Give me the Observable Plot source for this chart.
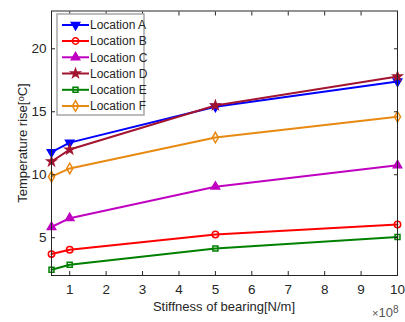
<!DOCTYPE html>
<html>
<head>
<meta charset="utf-8">
<script src="https://cdn.jsdelivr.net/npm/d3@7"></script>
<script src="https://cdn.jsdelivr.net/npm/@observablehq/plot@0.6"></script>
<style>
  html, body { margin: 0; padding: 0; background: #fff; }
  #chart { width: 405px; height: 322px; }
  svg { font-family: "Liberation Sans", Arial, sans-serif; }
</style>
</head>
<body>
<div id="chart"></div>
<script>
// ---- data ----
const stiffness = [0.5, 1, 5, 10]; // ×10^8 N/m
const seriesNames = ["Location A", "Location B", "Location C", "Location D", "Location E", "Location F"];
const valuesA = [11.8, 12.55, 15.4, 17.4];
const valuesB = [3.7, 4.05, 5.25, 6.05];
const valuesC = [5.85, 6.55, 9.05, 10.75];
const valuesD = [11.05, 12.0, 15.5, 17.8];
const valuesE = [2.45, 2.85, 4.15, 5.05];
const valuesF = [9.85, 10.5, 12.95, 14.6];
const xTicks = [1, 2, 3, 4, 5, 6, 7, 8, 9, 10];
const yTicks = [5, 10, 15, 20];
const colors = ["#0000ff", "#ff0000", "#c000c0", "#a2142f", "#008000", "#e88a12"];

// ---- symbols ----
const triangleDown = {
  draw(ctx, size) {
    const y = -Math.sqrt(size / (Math.sqrt(3) * 3));
    ctx.moveTo(0, -2 * y);
    ctx.lineTo(-Math.sqrt(3) * y, y);
    ctx.lineTo(Math.sqrt(3) * y, y);
    ctx.closePath();
  }
};
const symbols = [triangleDown, d3.symbolCircle, d3.symbolTriangle, d3.symbolStar, d3.symbolSquare, d3.symbolDiamond];
const filled = [true, false, true, true, false, false];
const radii = [3.1, 3.2, 3.1, 2.7, 2.8, 3.2];

const allValues = [valuesA, valuesB, valuesC, valuesD, valuesE, valuesF];
const rows = [];
allValues.forEach((vals, i) => {
  vals.forEach((v, j) => rows.push({series: seriesNames[i], idx: i, x: stiffness[j], y: v}));
});

const marks = [];
seriesNames.forEach((name, i) => {
  const d = rows.filter(r => r.idx === i);
  marks.push(Plot.line(d, {x: "x", y: "y", stroke: colors[i], strokeWidth: 2}));
  marks.push(Plot.dot(d, {x: "x", y: "y", symbol: symbols[i], r: radii[i],
    stroke: colors[i], strokeWidth: 1.5, fill: filled[i] ? colors[i] : "none"}));
});

const axisColor = "#262626";
const chart = Plot.plot({
  width: 405,
  height: 322,
  marginLeft: 51,
  marginRight: 8,
  marginTop: 10.5,
  marginBottom: 47,
  style: {fontFamily: "Liberation Sans, Arial, sans-serif", color: axisColor, background: "#fff"},
  x: {domain: [0.5, 10]},
  y: {domain: [2, 23]},
  marks: [
    ...marks,
    Plot.frame({stroke: axisColor, strokeWidth: 1}),
    Plot.axisX({ticks: xTicks, tickSize: 4, dy: -4, text: null, label: null, stroke: axisColor}),
    Plot.axisX({anchor: "top", ticks: xTicks, tickSize: 4, dy: 4, text: null, label: null, stroke: axisColor}),
    Plot.axisY({anchor: "left", ticks: yTicks, tickSize: 4, dx: 4, text: null, label: null, stroke: axisColor}),
    Plot.axisY({anchor: "right", ticks: yTicks, tickSize: 4, dx: -4, text: null, label: null, stroke: axisColor}),
    Plot.axisX({ticks: xTicks, tickSize: 0, tickPadding: 9, fontSize: 13.5, label: null, fill: axisColor}),
    Plot.axisY({ticks: yTicks, tickSize: 0, tickPadding: 5, fontSize: 13.5, label: null, fill: axisColor})
  ]
});
document.getElementById("chart").appendChild(chart);

// ---- labels & legend (text elements) ----
const svg = d3.select(chart);
svg.append("text")
  .attr("x", 224).attr("y", 311)
  .attr("text-anchor", "middle").attr("font-size", 13).attr("fill", axisColor)
  .text("Stiffness of bearing[N/m]");

const yl = svg.append("text")
  .attr("transform", "translate(27,143) rotate(-90)")
  .attr("text-anchor", "middle").attr("font-size", 13).attr("fill", axisColor);
yl.append("tspan").text("Temperature rise[");
yl.append("tspan").attr("baseline-shift", "35%").attr("font-size", 9.5).text("o");
yl.append("tspan").text("C]");

const ex = svg.append("text")
  .attr("x", 372).attr("y", 317).attr("text-anchor", "start").attr("font-size", 13).attr("fill", "#555");
ex.append("tspan").attr("font-size", 11).text("×");
ex.append("tspan").text("10");
ex.append("tspan").attr("baseline-shift", "45%").attr("font-size", 10).text("8");

const lg = svg.append("g");
lg.append("rect").attr("x", 57).attr("y", 14).attr("width", 87).attr("height", 101)
  .attr("fill", "#fff").attr("stroke", "#a6a6a6").attr("stroke-width", 1.5);
const rowY = [25, 41, 57.3, 73.5, 89.8, 106];
seriesNames.forEach((name, i) => {
  const g = lg.append("g").attr("transform", `translate(0,${rowY[i]})`);
  g.append("line").attr("x1", 62).attr("x2", 89).attr("y1", 0).attr("y2", 0)
    .attr("stroke", colors[i]).attr("stroke-width", 2);
  g.append("path").attr("transform", "translate(75.5,0)")
    .attr("d", d3.symbol(symbols[i], Math.PI * radii[i] * radii[i])())
    .attr("stroke", colors[i]).attr("stroke-width", 1.5)
    .attr("fill", filled[i] ? colors[i] : "none");
  g.append("text").attr("x", 90).attr("y", 0).attr("dy", "0.36em")
    .attr("text-anchor", "start")
    .attr("font-size", 12).attr("fill", axisColor).text(name);
});
</script>
</body>
</html>
